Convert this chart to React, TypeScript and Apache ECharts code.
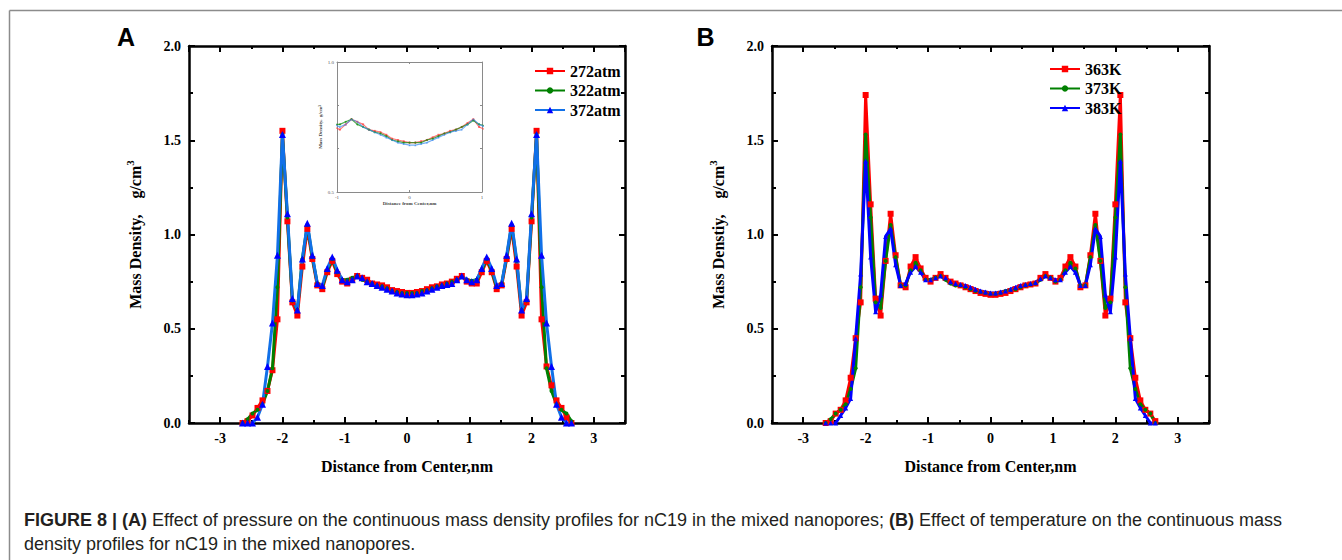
import React, { useEffect, useRef } from "react";
import * as echarts from "echarts";

const xs = [
  -2.64, -2.56, -2.48, -2.4, -2.32, -2.24, -2.16, -2.08, -2.0, -1.92, -1.84, -1.76, -1.68, -1.6, -1.52, -1.44, -1.36,
  -1.28, -1.2, -1.12, -1.04, -0.96, -0.88, -0.8, -0.72, -0.64, -0.56, -0.48, -0.4, -0.32, -0.24, -0.16, -0.08,
  0.0, 0.08, 0.16, 0.24, 0.32, 0.4, 0.48, 0.56, 0.64, 0.72, 0.8, 0.88, 0.96, 1.04, 1.12, 1.2, 1.28, 1.36, 1.44,
  1.52, 1.6, 1.68, 1.76, 1.84, 1.92, 2.0, 2.08, 2.16, 2.24, 2.32, 2.4, 2.48, 2.56, 2.64,
];

// Panel A: pressure
const p272 = [
  0.0, 0.01, 0.04, 0.08, 0.12, 0.17, 0.28, 0.55, 1.55, 1.07, 0.64, 0.57, 0.83, 1.03, 0.87, 0.73, 0.71,
  0.8, 0.86, 0.79, 0.75, 0.74, 0.76, 0.78, 0.77, 0.76, 0.74, 0.735, 0.73, 0.72, 0.705, 0.7, 0.695,
  0.69, 0.69, 0.695, 0.7, 0.71, 0.72, 0.725, 0.735, 0.74, 0.75, 0.765, 0.78, 0.75, 0.74, 0.74, 0.8, 0.86, 0.8, 0.71,
  0.73, 0.87, 1.03, 0.83, 0.57, 0.64, 1.07, 1.55, 0.55, 0.3, 0.2, 0.12, 0.08, 0.03, 0.0,
];
const p322 = [
  0.0, 0.02, 0.05, 0.07, 0.1, 0.17, 0.29, 0.72, 1.53, 1.09, 0.65, 0.6, 0.87, 1.05, 0.88, 0.74, 0.72,
  0.81, 0.87, 0.8, 0.76, 0.76, 0.77, 0.78, 0.76, 0.75, 0.74, 0.73, 0.725, 0.715, 0.7, 0.695, 0.69,
  0.69, 0.69, 0.69, 0.7, 0.705, 0.715, 0.725, 0.73, 0.74, 0.75, 0.76, 0.775, 0.76, 0.755, 0.76, 0.81, 0.87, 0.81, 0.72,
  0.74, 0.88, 1.05, 0.86, 0.6, 0.65, 1.09, 1.53, 0.72, 0.29, 0.17, 0.1, 0.07, 0.05, 0.01,
];
const p372 = [
  0.0, 0.0, 0.0, 0.03, 0.1, 0.3, 0.53, 0.89, 1.53, 1.11, 0.66, 0.6, 0.87, 1.06, 0.89, 0.74, 0.73,
  0.82, 0.88, 0.81, 0.76, 0.75, 0.76, 0.78, 0.77, 0.75, 0.74, 0.73, 0.72, 0.71, 0.7, 0.69, 0.685,
  0.68, 0.68, 0.685, 0.69, 0.7, 0.71, 0.72, 0.73, 0.735, 0.74, 0.76, 0.78, 0.76, 0.75, 0.76, 0.82, 0.88, 0.82, 0.73,
  0.74, 0.89, 1.06, 0.87, 0.6, 0.66, 1.11, 1.53, 0.89, 0.53, 0.3, 0.1, 0.03, 0.0, 0.0,
];

// Panel B: temperature
const t363 = [
  0.0, 0.01, 0.05, 0.07, 0.12, 0.24, 0.45, 0.64, 1.74, 1.16, 0.66, 0.57, 0.86, 1.11, 0.89, 0.73, 0.72,
  0.83, 0.88, 0.82, 0.77, 0.75, 0.77, 0.79, 0.77, 0.75, 0.74, 0.73, 0.72, 0.71, 0.7, 0.69, 0.685,
  0.68, 0.68, 0.685, 0.69, 0.7, 0.71, 0.72, 0.73, 0.735, 0.74, 0.77, 0.79, 0.77, 0.75, 0.77, 0.83, 0.88, 0.83, 0.72,
  0.73, 0.89, 1.11, 0.86, 0.57, 0.66, 1.16, 1.74, 0.64, 0.45, 0.24, 0.12, 0.07, 0.05, 0.01,
];
const t373 = [
  0.0, 0.02, 0.05, 0.07, 0.1, 0.18, 0.29, 0.72, 1.53, 1.09, 0.64, 0.61, 0.86, 1.05, 0.88, 0.73, 0.73,
  0.81, 0.85, 0.81, 0.76, 0.76, 0.77, 0.78, 0.76, 0.74, 0.73, 0.73, 0.72, 0.71, 0.7, 0.695, 0.69,
  0.685, 0.685, 0.69, 0.7, 0.705, 0.71, 0.72, 0.73, 0.735, 0.74, 0.76, 0.78, 0.77, 0.75, 0.76, 0.81, 0.85, 0.82, 0.73,
  0.73, 0.88, 1.05, 0.86, 0.61, 0.64, 1.09, 1.53, 0.72, 0.29, 0.18, 0.1, 0.07, 0.05, 0.0,
];
const t383 = [
  0.0, 0.0, 0.0, 0.04, 0.08, 0.13, 0.45, 0.79, 1.39, 0.88, 0.59, 0.68, 0.99, 1.03, 0.84, 0.73, 0.74,
  0.8, 0.83, 0.8, 0.76, 0.76, 0.77, 0.78, 0.77, 0.75, 0.74, 0.735, 0.73, 0.72, 0.71, 0.7, 0.695,
  0.69, 0.69, 0.695, 0.7, 0.71, 0.72, 0.73, 0.735, 0.74, 0.745, 0.765, 0.78, 0.77, 0.76, 0.76, 0.8, 0.83, 0.8, 0.73,
  0.73, 0.84, 1.03, 0.99, 0.68, 0.59, 0.88, 1.39, 0.79, 0.45, 0.13, 0.08, 0.04, 0.0, 0.0,
];

const namesA = ["272atm", "322atm", "372atm"];
const namesB = ["363K", "373K", "383K"];
const xTicks = [-3, -2, -1, 0, 1, 2, 3];
const yTicks = [0, 0.5, 1, 1.5, 2];

const SERIF = '"Liberation Serif", "Times New Roman", serif';
const SANS = '"Liberation Sans", Arial, sans-serif';

const pairs = (ys: number[]) => xs.map((x, i) => [x, ys[i]]);

function mainX(grid: number, pos: "bottom" | "top", labels: boolean, minor: boolean) {
  const base: any = {
    type: "value",
    gridIndex: grid,
    position: pos,
    min: -3.5,
    max: 3.5,
    splitLine: { show: false },
    axisLine: { show: !minor, onZero: false, lineStyle: { color: "#000", width: 2.5 } },
    axisTick: { show: true, inside: true, length: minor ? 3 : 6, lineStyle: { color: "#000", width: 2 } },
    axisLabel: { show: false },
  };
  if (minor) {
    base.interval = 0.5;
  } else {
    base.splitNumber = 7;
  }
  if (labels) {
    base.axisLabel = {
      show: true,
      margin: 8,
      showMinLabel: false,
      showMaxLabel: false,
      color: "#000",
      fontFamily: SERIF,
      fontWeight: "bold",
      fontSize: 14,
      formatter: (v: number) => (xTicks.indexOf(v) >= 0 ? String(v) : ""),
    };
    base.name = "Distance from Center,nm";
    base.nameLocation = "middle";
    base.nameGap = 35;
    base.nameTextStyle = { color: "#000", fontFamily: SERIF, fontWeight: "bold", fontSize: 16 };
  }
  return base;
}

function mainY(grid: number, pos: "left" | "right", labels: boolean, title: string) {
  const base: any = {
    type: "value",
    gridIndex: grid,
    position: pos,
    min: 0,
    max: 2,
    interval: 0.5,
    splitLine: { show: false },
    axisLine: { show: true, onZero: false, lineStyle: { color: "#000", width: 2.5 } },
    axisTick: { show: true, inside: true, length: 6, lineStyle: { color: "#000", width: 2 } },
    minorTick: { show: true, splitNumber: 2, length: 4, lineStyle: { color: "#000", width: 2 } },
    minorSplitLine: { show: false },
    axisLabel: { show: false },
  };
  if (labels) {
    base.axisLabel = {
      show: true,
      margin: 8,
      color: "#000",
      fontFamily: SERIF,
      fontWeight: "bold",
      fontSize: 14,
      formatter: (v: number) => (yTicks.indexOf(v) >= 0 ? v.toFixed(1) : ""),
    };
    base.name = "{a|" + title + ",    g/cm}{s|3}";
    base.nameLocation = "middle";
    base.nameRotate = 90;
    base.nameGap = 43;
    base.nameTextStyle = {
      rich: {
        a: { fontFamily: SERIF, fontWeight: "bold", fontSize: 16, color: "#000", lineHeight: 22 },
        s: { fontFamily: SERIF, fontWeight: "bold", fontSize: 11, color: "#000", lineHeight: 22, verticalAlign: "top" },
      },
    };
  }
  return base;
}

function insetAxes() {
  const ax = { lineStyle: { color: "#8a8a8a", width: 1 } };
  const tk = { show: true, inside: true, length: 2, lineStyle: { color: "#8a8a8a", width: 1 } };
  const lbl = { show: true, fontSize: 5, color: "#555", margin: 3, fontFamily: SERIF };
  const xAxes: any[] = [
    {
      type: "value", gridIndex: 2, position: "bottom", min: -1, max: 1, interval: 1,
      splitLine: { show: false }, axisLine: { onZero: false, ...ax }, axisTick: tk,
      axisLabel: { ...lbl, formatter: (v: number) => String(v) },
      name: "Distance from Center,nm", nameLocation: "middle", nameGap: 9,
      nameTextStyle: { fontSize: 5, fontWeight: "bold", color: "#444", fontFamily: SERIF },
    },
    {
      type: "value", gridIndex: 2, position: "top", min: -1, max: 1, interval: 1,
      splitLine: { show: false }, axisLine: { onZero: false, ...ax }, axisTick: tk, axisLabel: { show: false },
    },
  ];
  const yAxes: any[] = [
    {
      type: "value", gridIndex: 2, position: "left", min: 0.5, max: 1.0, interval: 0.5,
      splitLine: { show: false }, axisLine: { onZero: false, ...ax }, axisTick: tk,
      minorTick: { show: true, splitNumber: 3, length: 2, lineStyle: { color: "#8a8a8a", width: 1 } },
      axisLabel: { ...lbl, formatter: (v: number) => v.toFixed(1) },
      name: "Mass Density,  g/cm³", nameLocation: "middle", nameRotate: 90, nameGap: 14,
      nameTextStyle: { fontSize: 5, fontWeight: "bold", color: "#444", fontFamily: SERIF },
    },
    {
      type: "value", gridIndex: 2, position: "right", min: 0.5, max: 1.0, interval: 0.5,
      splitLine: { show: false }, axisLine: { onZero: false, ...ax }, axisTick: tk,
      minorTick: { show: true, splitNumber: 3, length: 2, lineStyle: { color: "#8a8a8a", width: 1 } },
      axisLabel: { show: false },
    },
  ];
  return { xAxes, yAxes };
}

function lineSeries(name: string, ys: number[], xi: number, yi: number, color: string, mark: string,
  symbol: string, size: number, width: number, opacity = 1) {
  return {
    type: "line",
    name,
    data: pairs(ys),
    xAxisIndex: xi,
    yAxisIndex: yi,
    symbol,
    symbolSize: size,
    showSymbol: true,
    clip: true,
    lineStyle: { color, width, opacity },
    itemStyle: { color: mark, opacity },
    emphasis: { disabled: true },
  };
}

export default function App() {
  const ref = useRef<HTMLDivElement>(null);
  useEffect(() => {
    document.body.style.margin = "0";
    if (!ref.current) return;
    const chart = echarts.init(ref.current, undefined, { renderer: "svg" });
    const inset = insetAxes();
    const capFont = '"Liberation Sans", Arial, sans-serif';
    const caption =
      "{b|FIGURE 8 | (A)} Effect of pressure on the continuous mass density profiles for nC19 in the mixed nanopores; {b|(B)} Effect of temperature on the continuous mass\ndensity profiles for nC19 in the mixed nanopores.";
    const option: any = {
      animation: false,
      backgroundColor: "#fff",
      grid: [
        { left: 189, top: 46, width: 436, height: 377, containLabel: false },
        { left: 772, top: 46, width: 437, height: 377, containLabel: false },
        { left: 337, top: 62, width: 145, height: 130, containLabel: false },
      ],
      xAxis: [
        mainX(0, "bottom", true, false),
        mainX(0, "bottom", false, true),
        mainX(0, "top", false, false),
        mainX(0, "top", false, true),
        mainX(1, "bottom", true, false),
        mainX(1, "bottom", false, true),
        mainX(1, "top", false, false),
        mainX(1, "top", false, true),
        ...inset.xAxes,
      ],
      yAxis: [
        mainY(0, "left", true, "Mass Density"),
        mainY(0, "right", false, ""),
        mainY(1, "left", true, "Mass Denstiy"),
        mainY(1, "right", false, ""),
        ...inset.yAxes,
      ],
      legend: [
        {
          data: namesA, orient: "vertical", left: 529, top: 58, itemWidth: 30, itemHeight: 8, itemGap: 3.5,
          textStyle: { fontFamily: SERIF, fontWeight: "bold", fontSize: 16, color: "#000", lineHeight: 16 },
          selectedMode: false,
        },
        {
          data: namesB, orient: "vertical", left: 1044, top: 56, itemWidth: 30, itemHeight: 8, itemGap: 3.5,
          textStyle: { fontFamily: SERIF, fontWeight: "bold", fontSize: 16, color: "#000", lineHeight: 16 },
          selectedMode: false,
        },
      ],
      series: [
        lineSeries(namesA[0], p272, 0, 0, "#ff0000", "#ff0000", "rect", 6, 3),
        lineSeries(namesA[1], p322, 0, 0, "#008000", "#008000", "circle", 4, 3),
        lineSeries(namesA[2], p372, 0, 0, "#1170e8", "#0000ff", "triangle", 7, 3),
        lineSeries(namesB[0], t363, 4, 2, "#ff0000", "#ff0000", "rect", 6, 3),
        lineSeries(namesB[1], t373, 4, 2, "#008000", "#008000", "circle", 4, 3),
        lineSeries(namesB[2], t383, 4, 2, "#0000ff", "#0000ff", "triangle", 5, 3),
        lineSeries("inset-272", p272, 8, 4, "#ff4040", "#ff4040", "rect", 2, 1.2, 0.7),
        lineSeries("inset-322", p322, 8, 4, "#0a8a0a", "#0a8a0a", "circle", 2, 1.2, 0.7),
        lineSeries("inset-372", p372, 8, 4, "#3a8af0", "#3a8af0", "triangle", 2, 1.2, 0.7),
      ],
      graphic: [
        { type: "line", shape: { x1: 9.5, y1: 10.5, x2: 1342, y2: 10.5 }, style: { stroke: "#8c8c8c", lineWidth: 1.5 } },
        { type: "line", shape: { x1: 9.5, y1: 10.5, x2: 9.5, y2: 560 }, style: { stroke: "#8c8c8c", lineWidth: 1.5 } },
        {
          type: "text", x: 126, y: 37,
          style: { text: "A", font: "bold 25px " + SANS, fill: "#000", textAlign: "center", textVerticalAlign: "middle", align: "center", verticalAlign: "middle" },
        },
        {
          type: "text", x: 705.5, y: 37,
          style: { text: "B", font: "bold 25px " + SANS, fill: "#000", textAlign: "center", textVerticalAlign: "middle", align: "center", verticalAlign: "middle" },
        },
        {
          type: "text", x: 24, y: 508,
          style: {
            text: caption,
            font: "18px " + capFont,
            fill: "#231f20",
            lineHeight: 24,
            rich: { b: { fontWeight: "bold", fontSize: 18, fontFamily: capFont, fill: "#231f20", lineHeight: 24 } },
          },
        },
      ],
    };
    chart.setOption(option);
    return () => chart.dispose();
  }, []);
  return <div ref={ref} style={{ width: 1342, height: 560 }} />;
}
